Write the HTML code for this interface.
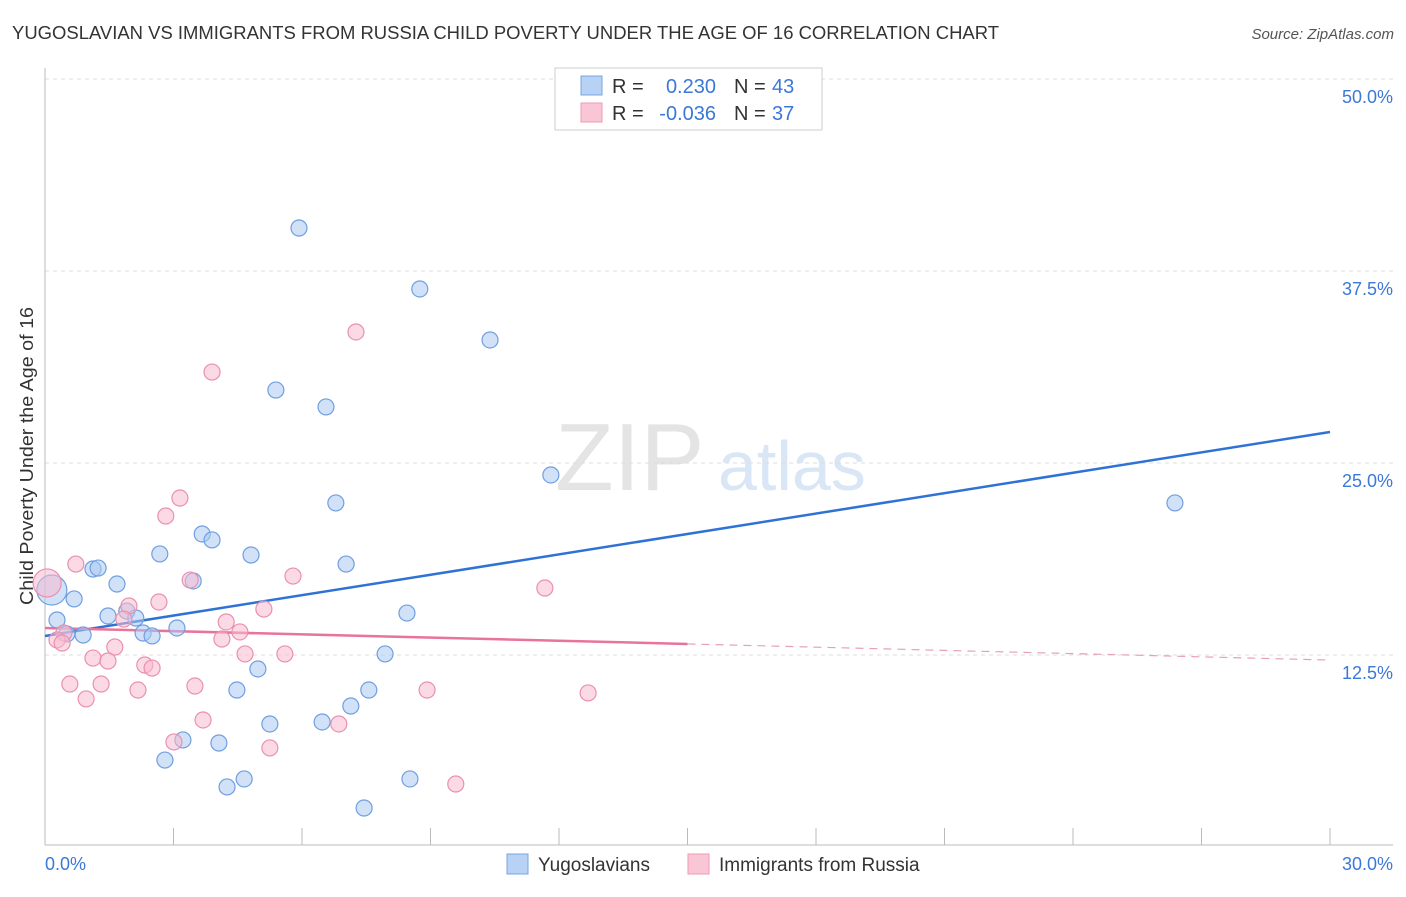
<!DOCTYPE html>
<html><head><meta charset="utf-8"><style>
body{margin:0;background:#fff;font-family:"Liberation Sans",sans-serif;}
svg text{font-family:"Liberation Sans",sans-serif;}
</style></head><body>
<svg id="chart" width="1406" height="892" xmlns="http://www.w3.org/2000/svg">
<text x="12" y="39" font-size="18" fill="#333" textLength="987" lengthAdjust="spacingAndGlyphs">YUGOSLAVIAN VS IMMIGRANTS FROM RUSSIA CHILD POVERTY UNDER THE AGE OF 16 CORRELATION CHART</text>
<text x="1394" y="39" font-size="15" fill="#555" text-anchor="end" font-style="italic">Source: ZipAtlas.com</text>
<text x="555" y="490" font-size="96" fill="#e4e4e4" font-family="Liberation Serif">ZIP</text>
<text x="718" y="490" font-size="70" fill="#d8e6f6">atlas</text>
<text transform="translate(33,456) rotate(-90)" font-size="18" fill="#333" text-anchor="middle" textLength="298" lengthAdjust="spacingAndGlyphs">Child Poverty Under the Age of 16</text>
<g id="grid"></g><g id="axes"></g><g id="trend"></g><g id="pts"></g>
<g>
<rect x="555" y="68" width="267" height="62" fill="#fff" stroke="#ccc"/>
<rect x="581" y="76" width="21" height="19" fill="#b7d2f5" stroke="#7aa6e0"/>
<rect x="581" y="103" width="21" height="19" fill="#f9c6d6" stroke="#ee9ab5"/>
<text x="612" y="93" font-size="20" fill="#333">R =</text>
<text x="716" y="93" font-size="20" fill="#3b78d8" text-anchor="end">0.230</text>
<text x="734" y="93" font-size="20" fill="#333">N =</text>
<text x="772" y="93" font-size="20" fill="#3b78d8">43</text>
<text x="612" y="120" font-size="20" fill="#333">R =</text>
<text x="716" y="120" font-size="20" fill="#3b78d8" text-anchor="end">-0.036</text>
<text x="734" y="120" font-size="20" fill="#333">N =</text>
<text x="772" y="120" font-size="20" fill="#3b78d8">37</text>
</g>
<g>
<rect x="507" y="854" width="21" height="20" fill="#b7d2f5" stroke="#7aa6e0"/>
<text x="538" y="871" font-size="19" fill="#333">Yugoslavians</text>
<rect x="688" y="854" width="21" height="20" fill="#f9c6d6" stroke="#ee9ab5"/>
<text x="719" y="871" font-size="19" fill="#333">Immigrants from Russia</text>
</g>
</svg>
<script>
const yTicks=[12.5,25,37.5,50];
const xTickLabels=["0.0%","30.0%"];
const blueX=[5.93,8.75,10.39,5.39,6.56,11.81,26.38,6.79,3.67,3.90,2.68,4.81,7.03,1.12,1.24,1.68,3.46,0.68,1.91,1.47,2.12,0.28,8.45,2.29,2.50,0.89,0.51,3.08,7.94,4.97,4.48,7.56,7.14,5.25,6.47,3.22,4.06,2.80,4.65,8.52,4.25,7.45];
const blueY=[40.30,36.33,33.01,29.75,28.65,24.22,22.40,22.40,20.38,19.99,19.08,19.01,18.42,18.10,18.16,17.12,17.32,16.15,15.36,15.04,14.91,14.78,15.23,13.93,13.74,13.80,13.87,14.26,12.57,11.59,10.22,10.22,9.18,8.01,8.14,6.97,6.77,5.66,4.43,4.43,3.91,2.54];
const pinkX=[7.26,3.90,3.15,2.82,0.72,5.79,3.39,11.67,2.66,5.11,1.96,1.84,4.23,4.55,4.13,0.44,0.28,0.40,1.63,4.67,5.60,1.12,1.47,2.33,2.50,0.58,1.31,3.50,2.17,8.92,12.68,0.96,3.69,6.86,3.01,5.25,9.59];
const pinkY=[33.53,30.92,22.72,21.55,18.42,17.64,17.38,16.86,15.95,15.49,15.69,14.84,14.65,14.00,13.54,13.93,13.48,13.28,13.02,12.57,12.57,12.30,12.11,11.85,11.65,10.61,10.61,10.48,10.22,10.22,10.03,9.64,8.27,8.01,6.84,6.45,4.10];
const bigBlue=[0.16,16.73];
const bigPink=[0.05,17.19];
const blueTrend=[13.74,27.02];
const pinkTrend=[14.26,13.22,12.17];
const X=v=>45+v/30*1285;
const Y=v=>847-v/12.5*192;
const NS="http://www.w3.org/2000/svg";
function mk(tag,attrs,parent){const e=document.createElementNS(NS,tag);for(const k in attrs)e.setAttribute(k,attrs[k]);document.getElementById(parent).appendChild(e);return e;}
yTicks.forEach(t=>{
 const l=mk('line',{x1:45,x2:1393,y1:Y(t),y2:Y(t),stroke:'#ddd','stroke-dasharray':'4,4'},'grid');
 
 
 const tx=mk('text',{x:1393,y:Y(t)+24,'font-size':18,fill:'#3b78d8','text-anchor':'end'},'grid');
 tx.textContent=t.toFixed(1)+'%';
 
 
});
const ax=mk('line',{x1:45,x2:45,y1:68,y2:845,stroke:'#bbb'},'axes');


const bx=mk('line',{x1:45,x2:1393,y1:845,y2:845,stroke:'#bbb'},'axes');


for(let i=0;i<=10;i++){
 const t=mk('line',{x1:X(i*3),x2:X(i*3),y1:828,y2:845,stroke:'#bbb'},'axes');
 
 
}
[[0,'start'],[30,'end']].forEach((p,i)=>{
 const t=mk('text',{x:p[0]==0?45:1393,y:870,'font-size':18,fill:'#3b78d8','text-anchor':p[1]},'axes');
 t.textContent=xTickLabels[i];
 
 
});
function dot(x,y,r,c,n){
 const e=mk('circle',{cx:X(x),cy:Y(y),r:r,fill:c[0],'fill-opacity':0.55,stroke:c[1],'stroke-width':1.2},'pts');
 
 
}
const BC=['#a9c9f2','#6f9fe0'],PC=['#f7bcd0','#ea90ae'];
dot(bigBlue[0],bigBlue[1],15,BC,'yugoslavian-point');
dot(bigPink[0],bigPink[1],14,PC,'russia-point');
blueX.forEach((x,i)=>dot(x,blueY[i],8,BC,'yugoslavian-point'));
pinkX.forEach((x,i)=>dot(x,pinkY[i],8,PC,'russia-point'));
const bl=mk('line',{x1:X(0),y1:Y(blueTrend[0]),x2:X(30),y2:Y(blueTrend[1]),stroke:'#2f72d6','stroke-width':2.5},'trend');


const pl=mk('line',{x1:X(0),y1:Y(pinkTrend[0]),x2:X(15),y2:Y(pinkTrend[1]),stroke:'#e8739b','stroke-width':2.5},'trend');


const pd=mk('line',{x1:X(15),y1:Y(pinkTrend[1]),x2:X(30),y2:Y(pinkTrend[2]),stroke:'#e8a0b8','stroke-width':1.2,'stroke-dasharray':'8,6'},'trend');


</script>
</body></html>
